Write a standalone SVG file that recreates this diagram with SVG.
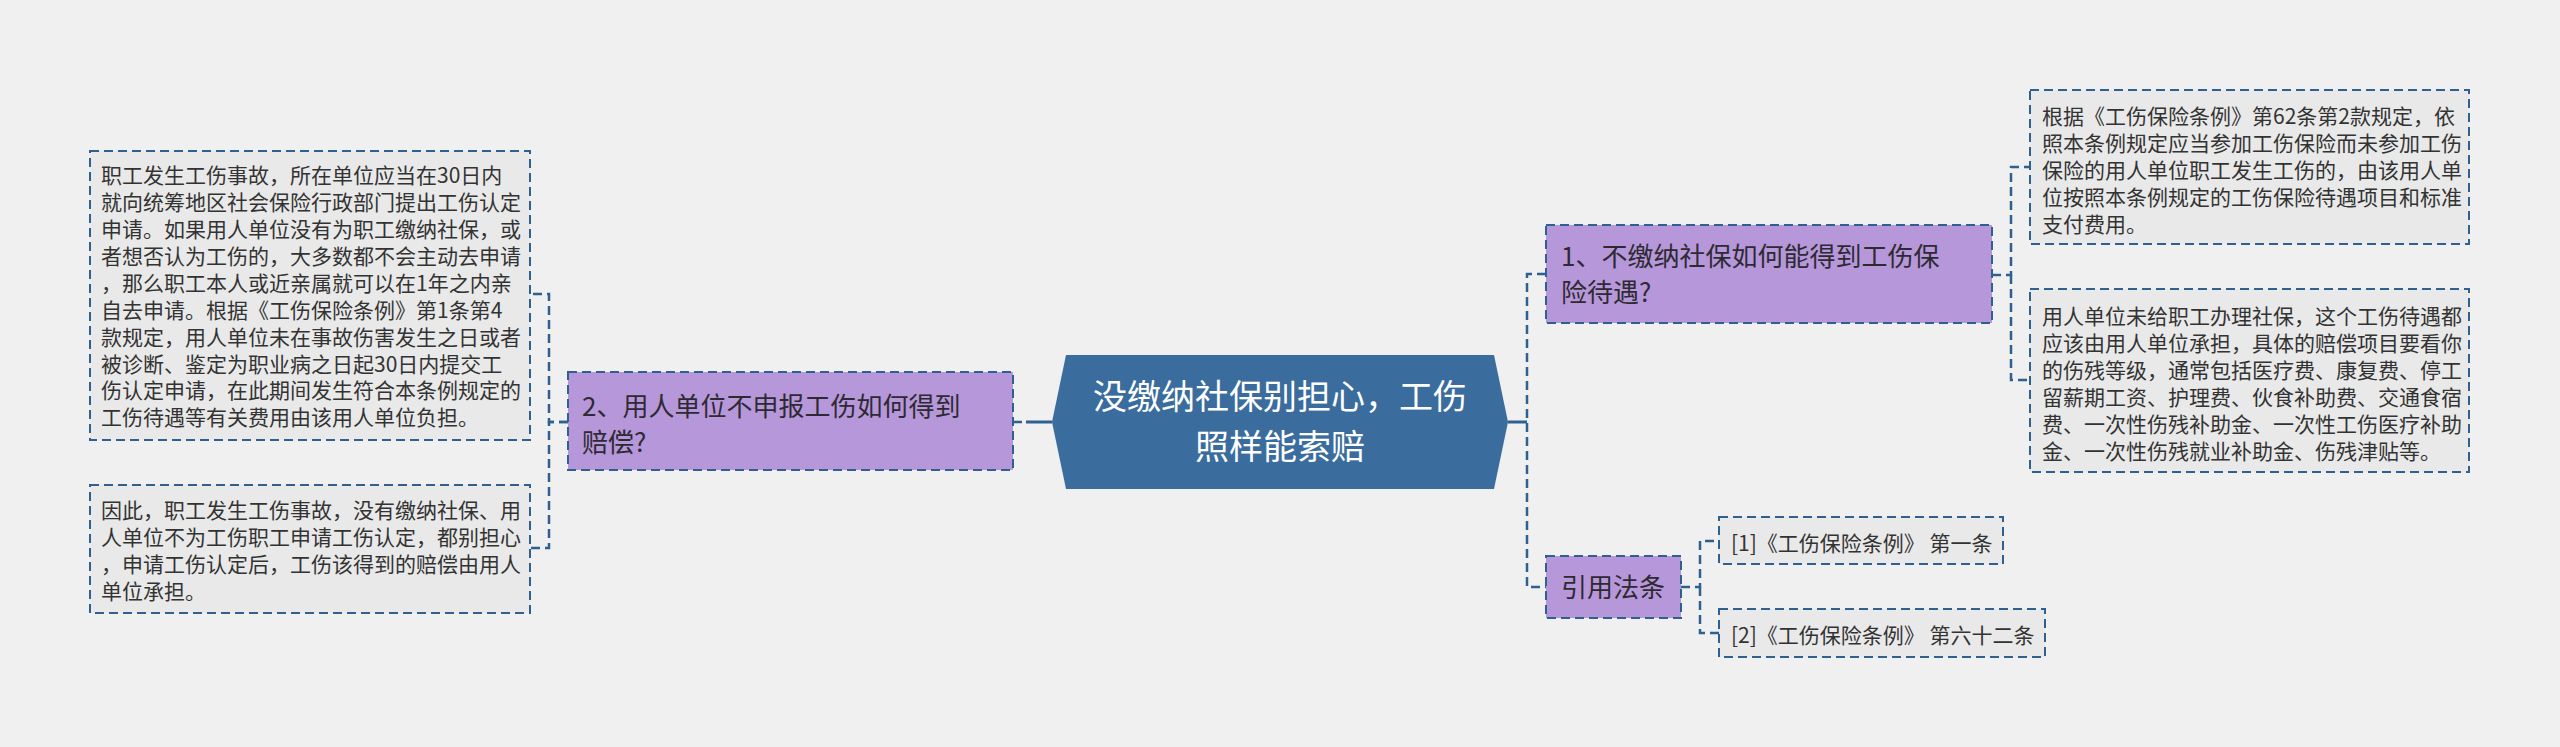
<svg xmlns="http://www.w3.org/2000/svg" width="2560" height="747" viewBox="0 0 2560 747">
<style>
text{font-family:"Noto Sans CJK SC","Noto Sans",sans-serif;}
.bg{fill:#f0f0f0;}
.box{fill:#e9e9e9;stroke:#2f6190;stroke-width:2;stroke-dasharray:9 5;}
.sub{fill:#b697da;stroke:#2f6190;stroke-width:2;stroke-dasharray:9 5;}
.t{font-size:21px;fill:#333333;}
.st{font-size:26px;fill:#2e2a33;}
.mt{font-size:34px;fill:#ffffff;text-anchor:middle;}
.con{fill:none;stroke:#2f6190;stroke-width:2.5;stroke-dasharray:9 5;}
.sol{fill:none;stroke:#2f6190;stroke-width:3;}
</style>
<rect class="bg" x="0" y="0" width="2560" height="747"/>
<g id="connectors">
<path class="sol" d="M1052,422 H1026"/>
<path class="con" d="M1022,422 H1013"/>
<path class="con" d="M568,422 H549 V294 H531"/>
<path class="con" d="M568,422 H549 V548 H531"/>
<path class="sol" d="M1508,422 H1527"/>
<path class="con" d="M1546,274 H1527 V587 H1546"/>
<path class="con" d="M1992,275 H2011 V167 H2030"/>
<path class="con" d="M2011,275 V380 H2030"/>
<path class="con" d="M1681,587 H1700 V541 H1719"/>
<path class="con" d="M1700,587 V633 H1719"/>
</g>
<g id="center">
<polygon points="1066,355 1494,355 1508,422 1494,489 1066,489 1052,422" fill="#3a6d9e"/>
<text class="mt" x="1280" y="409"><tspan x="1280" y="409">没缴纳社保别担心，工伤</tspan><tspan x="1280" y="459">照样能索赔</tspan></text>
</g>
<g id="node-left">
<rect class="sub" x="568" y="372" width="445" height="98"/>
<text class="st" x="582" y="416"><tspan x="582" y="416">2、用人单位不申报工伤如何得到</tspan><tspan x="582" y="452">赔偿?</tspan></text>
</g>
<g id="box-left-1">
<rect class="box" x="90" y="151" width="440" height="289"/>
<text class="t" x="101" y="183">职工发生工伤事故，所在单位应当在30日内</text>
<text class="t" x="101" y="210">就向统筹地区社会保险行政部门提出工伤认定</text>
<text class="t" x="101" y="237">申请。如果用人单位没有为职工缴纳社保，或</text>
<text class="t" x="101" y="264">者想否认为工伤的，大多数都不会主动去申请</text>
<text class="t" x="101" y="291">，那么职工本人或近亲属就可以在1年之内亲</text>
<text class="t" x="101" y="318">自去申请。根据《工伤保险条例》第1条第4</text>
<text class="t" x="101" y="345">款规定，用人单位未在事故伤害发生之日或者</text>
<text class="t" x="101" y="372">被诊断、鉴定为职业病之日起30日内提交工</text>
<text class="t" x="101" y="398">伤认定申请，在此期间发生符合本条例规定的</text>
<text class="t" x="101" y="425">工伤待遇等有关费用由该用人单位负担。</text>
</g>
<g id="box-left-2">
<rect class="box" x="90" y="485" width="440" height="128"/>
<text class="t" x="101" y="518">因此，职工发生工伤事故，没有缴纳社保、用</text>
<text class="t" x="101" y="545">人单位不为工伤职工申请工伤认定，都别担心</text>
<text class="t" x="101" y="572">，申请工伤认定后，工伤该得到的赔偿由用人</text>
<text class="t" x="101" y="599">单位承担。</text>
</g>
<g id="node-right-1">
<rect class="sub" x="1546" y="225" width="446" height="98"/>
<text class="st" x="1561" y="266"><tspan x="1561" y="266">1、不缴纳社保如何能得到工伤保</tspan><tspan x="1561" y="302">险待遇?</tspan></text>
</g>
<g id="box-right-1">
<rect class="box" x="2030" y="90" width="439" height="154"/>
<text class="t" x="2042" y="124">根据《工伤保险条例》第62条第2款规定，依</text>
<text class="t" x="2042" y="151">照本条例规定应当参加工伤保险而未参加工伤</text>
<text class="t" x="2042" y="178">保险的用人单位职工发生工伤的，由该用人单</text>
<text class="t" x="2042" y="205">位按照本条例规定的工伤保险待遇项目和标准</text>
<text class="t" x="2042" y="232">支付费用。</text>
</g>
<g id="box-right-2">
<rect class="box" x="2030" y="289" width="439" height="183"/>
<text class="t" x="2042" y="324">用人单位未给职工办理社保，这个工伤待遇都</text>
<text class="t" x="2042" y="351">应该由用人单位承担，具体的赔偿项目要看你</text>
<text class="t" x="2042" y="378">的伤残等级，通常包括医疗费、康复费、停工</text>
<text class="t" x="2042" y="405">留薪期工资、护理费、伙食补助费、交通食宿</text>
<text class="t" x="2042" y="432">费、一次性伤残补助金、一次性工伤医疗补助</text>
<text class="t" x="2042" y="459">金、一次性伤残就业补助金、伤残津贴等。</text>
</g>
<g id="node-right-2">
<rect class="sub" x="1546" y="556" width="135" height="62"/>
<text class="st" x="1613" y="597" text-anchor="middle">引用法条</text>
</g>
<g id="ref-1">
<rect class="box" x="1719" y="517" width="284" height="47"/>
<text class="t" x="1731" y="551">[1]《工伤保险条例》 第一条</text>
</g>
<g id="ref-2">
<rect class="box" x="1719" y="609" width="326" height="48"/>
<text class="t" x="1731" y="643">[2]《工伤保险条例》 第六十二条</text>
</g>
</svg>
